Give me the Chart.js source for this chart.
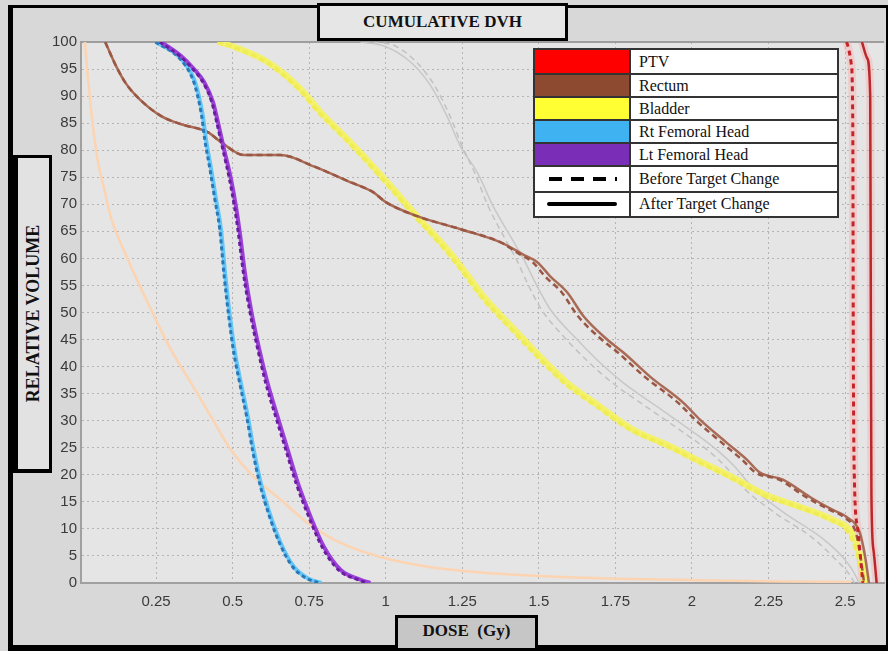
<!DOCTYPE html>
<html>
<head>
<meta charset="utf-8">
<script src="https://cdn.jsdelivr.net/npm/chart.js@4.4.1/dist/chart.umd.min.js"></script>
<style>
html, body { margin: 0; padding: 0; }
body { width: 888px; height: 651px; background: #d8d8d8; position: relative; overflow: hidden; }
#myChart { position: absolute; left: 0; top: 0; }
.frame { position: absolute; left: 8px; top: 5px; width: 880px; height: 646px; box-sizing: border-box;
  border-style: solid; border-color: #000; border-width: 3px 2px 6px 5px; pointer-events: none; }
.box { position: absolute; box-sizing: border-box; border: 3px solid #000; display: flex;
  align-items: center; justify-content: center; font-family: "Liberation Serif", "Times New Roman", serif;
  font-weight: bold; color: #111; white-space: nowrap; }
#title { left: 317px; top: 3px; width: 251px; height: 38px; background: #e6e6e6; font-size: 17px; }
#ylab { left: 13px; top: 155px; width: 39px; height: 318px; background: #e2e2e2; border-width: 3px 3px 4px 5px; }
#ylab span { display: inline-block; transform: rotate(-90deg); font-size: 18px; }
#xlab { left: 395px; top: 615px; width: 143px; height: 36px; background: #c6c6c6; font-size: 17px; padding-bottom: 4px; }
#legend { position: absolute; left: 533px; top: 48px; width: 306px; box-sizing: border-box;
  border: 2px solid #333; background: #fff; font-family: "Liberation Serif", "Times New Roman", serif;
  font-size: 16px; color: #111; }
#legend .row { display: flex; border-top: 2px solid #333; box-sizing: border-box; }
#legend .row:first-child { border-top: none; }
#legend .sw { width: 96px; border-right: 2px solid #333; position: relative; box-sizing: border-box; }
#legend .tx { flex: 1; padding-left: 8px; display: flex; align-items: center; line-height: 1; }
</style>
</head>
<body>
<canvas id="myChart" width="888" height="651"></canvas>
<div class="frame"></div>
<div class="box" id="title">CUMULATIVE DVH</div>
<div class="box" id="ylab"><span>RELATIVE VOLUME</span></div>
<div class="box" id="xlab">DOSE&nbsp;&nbsp;(Gy)</div>
<div id="legend"></div>
<script>
// axis ticks
const xTickVals = [0.25, 0.5, 0.75, 1, 1.25, 1.5, 1.75, 2, 2.25, 2.5];
const yTickVals = [0, 5, 10, 15, 20, 25, 30, 35, 40, 45, 50, 55, 60, 65, 70, 75, 80, 85, 90, 95, 100];

// PTV
const ptvAfterDose = [2.555, 2.572, 2.582, 2.584, 2.586, 2.593, 2.603];
const ptvAfterVol = [100, 97, 90, 50, 16, 6, 0];
const ptvBeforeDose = [2.505, 2.52, 2.525, 2.527, 2.53, 2.541, 2.558];
const ptvBeforeVol = [100, 96, 85, 40, 20, 10, 0];

// Rectum
const rectumAfterDose = [0.084, 0.12, 0.152, 0.195, 0.267, 0.332, 0.42, 0.462, 0.537, 0.657, 0.765, 0.876, 0.96, 1.0, 1.103, 1.244, 1.374, 1.449, 1.495, 1.537, 1.593, 1.646, 1.723, 1.776, 1.864, 1.972, 2.026, 2.114, 2.179, 2.222, 2.297, 2.385, 2.46, 2.505, 2.548, 2.565, 2.578];
const rectumBeforeDose = [0.084, 0.12, 0.152, 0.195, 0.267, 0.332, 0.42, 0.462, 0.537, 0.657, 0.765, 0.876, 0.96, 1.0, 1.103, 1.244, 1.374, 1.44, 1.48, 1.52, 1.575, 1.628, 1.705, 1.758, 1.846, 1.955, 2.01, 2.098, 2.163, 2.208, 2.285, 2.372, 2.45, 2.495, 2.535, 2.55, 2.562];
const rectumVol = [100, 95.5, 92.3, 89.5, 86.3, 84.8, 83.3, 81.5, 79.1, 79.1, 77, 74.3, 72.2, 70.4, 67.8, 65.4, 63, 60.7, 59.3, 56.7, 53.7, 49.3, 45, 42.6, 38.1, 33.3, 30.2, 25.9, 22.8, 20.4, 19.1, 15.9, 13.5, 12.2, 9.3, 5, 0];

// Bladder
const bladderAfterDose = [0.455, 0.51, 0.615, 0.723, 0.788, 0.876, 0.983, 1.103, 1.211, 1.266, 1.319, 1.43, 1.504, 1.593, 1.7, 1.809, 1.92, 2.026, 2.134, 2.245, 2.352, 2.46, 2.515, 2.537, 2.558, 2.566];
const bladderBeforeDose = [0.45, 0.505, 0.608, 0.716, 0.781, 0.869, 0.976, 1.095, 1.203, 1.258, 1.311, 1.42, 1.494, 1.583, 1.69, 1.799, 1.91, 2.016, 2.124, 2.235, 2.342, 2.45, 2.505, 2.528, 2.55, 2.558];
const bladderVol = [100, 99, 96.3, 91.3, 87, 82, 75.5, 67.8, 61, 57, 53, 46.3, 41.9, 37, 32.6, 28.3, 25.5, 22.5, 19.5, 16.2, 14.1, 11.7, 9.8, 7.4, 3, 0];

// Rt Femoral Head
const rtFemAfterDose = [0.25, 0.332, 0.374, 0.39, 0.403, 0.413, 0.43, 0.446, 0.462, 0.476, 0.492, 0.508, 0.527, 0.55, 0.569, 0.592, 0.625, 0.657, 0.7, 0.745, 0.79];
const rtFemBeforeDose = [0.248, 0.328, 0.37, 0.386, 0.399, 0.409, 0.426, 0.442, 0.458, 0.472, 0.488, 0.504, 0.523, 0.546, 0.565, 0.588, 0.621, 0.653, 0.696, 0.74, 0.785];
const rtFemVol = [100, 96.9, 93.1, 90, 86.3, 82, 76.5, 70.9, 65.4, 57, 49, 42.5, 37, 30.7, 24.6, 18.5, 12.2, 7.4, 3, 0.9, 0];

// Lt Femoral Head
const ltFemAfterDose = [0.267, 0.332, 0.374, 0.407, 0.436, 0.452, 0.472, 0.495, 0.511, 0.523, 0.541, 0.562, 0.588, 0.614, 0.647, 0.68, 0.713, 0.755, 0.798, 0.853, 0.918, 0.95];
const ltFemBeforeDose = [0.262, 0.328, 0.37, 0.403, 0.432, 0.448, 0.468, 0.49, 0.506, 0.518, 0.536, 0.557, 0.583, 0.608, 0.641, 0.674, 0.707, 0.749, 0.792, 0.846, 0.91, 0.94];
const ltFemVol = [100, 97.4, 95, 92.6, 88.9, 85.2, 80.2, 74.6, 69.6, 65, 57, 50, 43, 37, 30.7, 24.6, 18.5, 12.2, 6.7, 2.4, 0.6, 0];

// unlabelled grey structure
const greyAfterDose = [0.918, 0.993, 1.081, 1.147, 1.2, 1.244, 1.299, 1.351, 1.407, 1.449, 1.495, 1.537, 1.625, 1.7, 1.776, 1.886, 1.994, 2.081, 2.14, 2.2, 2.3, 2.42, 2.5, 2.537, 2.545];
const greyBeforeDose = [0.96, 1.03, 1.1, 1.16, 1.21, 1.25, 1.29, 1.335, 1.385, 1.425, 1.468, 1.508, 1.59, 1.665, 1.74, 1.85, 1.96, 2.05, 2.11, 2.17, 2.27, 2.39, 2.47, 2.52, 2.53];
const greyVol = [100, 99.3, 96.3, 91.9, 86.3, 80.7, 75.9, 69.6, 64.1, 60, 54.8, 50.6, 45, 40.7, 37, 32.6, 28.3, 24.6, 21.5, 17.5, 13, 8.5, 4.3, 1.1, 0];

// unlabelled peach structure
const peachDose = [0.018, 0.025, 0.035, 0.045, 0.06, 0.08, 0.103, 0.126, 0.18, 0.234, 0.299, 0.364, 0.43, 0.495, 0.569, 0.657, 0.745, 0.853, 0.983, 1.137, 1.3, 1.504, 1.75, 2.026, 2.3, 2.52];
const peachVol = [100, 95, 89, 84, 78, 73, 67.5, 64, 57, 50.5, 43.1, 37, 30.7, 24.6, 19.6, 15.4, 11.1, 7.4, 4.8, 3, 2, 1.3, 0.8, 0.5, 0.3, 0.2];

// legend
const legendLabels = ['PTV', 'Rectum', 'Bladder', 'Rt Femoral Head', 'Lt Femoral Head', 'Before Target Change', 'After Target Change'];
const legendColors = ['#ff0000', '#8e4a30', '#ffff33', '#3fb2f2', '#7a2db6', 'dash', 'solid'];

function pts(dose, vol) {
    return dose.map((d, i) => ({ x: d, y: vol[i] }));
}

function line(label, data, color, width, dash) {
    return {
        label: label,
        data: data,
        borderColor: color,
        borderWidth: width,
        borderDash: dash || [],
        pointRadius: 0,
        fill: false,
        cubicInterpolationMode: 'monotone'
    };
}

// first in list = drawn on top
const datasets = [
    line('PTV before', pts(ptvBeforeDose, ptvBeforeVol), '#c3252b', 3, [5, 4]),
    line('PTV after', pts(ptvAfterDose, ptvAfterVol), '#b8282d', 2.5),
    line('Lt Femoral Head before', pts(ltFemBeforeDose, ltFemVol), '#6a1e9e', 3, [4, 3]),
    line('Lt Femoral Head after', pts(ltFemAfterDose, ltFemVol), '#9a40d8', 4),
    line('Rt Femoral Head before', pts(rtFemBeforeDose, rtFemVol), '#2a78b8', 3, [4, 3]),
    line('Rt Femoral Head after', pts(rtFemAfterDose, rtFemVol), '#62c6f6', 4),
    line('Rectum before', pts(rectumBeforeDose, rectumVol), '#9a5743', 2.5, [6, 4]),
    line('Rectum after', pts(rectumAfterDose, rectumVol), '#a96a56', 2.5),
    line('Bladder before', pts(bladderBeforeDose, bladderVol), '#efec55', 4, [6, 3]),
    line('Bladder after', pts(bladderAfterDose, bladderVol), '#f4f26a', 6),
    line('Grey before', pts(greyBeforeDose, greyVol), '#c2c2c2', 1.5, [6, 4]),
    line('Grey after', pts(greyAfterDose, greyVol), '#c8c8c8', 1.5),
    line('Peach', pts(peachDose, peachVol), '#fcd4b2', 2.5),
    line('PTV before glow', pts(ptvBeforeDose, ptvBeforeVol), 'rgba(255,160,160,0.35)', 8),
    line('PTV after glow', pts(ptvAfterDose, ptvAfterVol), 'rgba(255,160,160,0.35)', 8)
];

// html legend
const legendEl = document.getElementById('legend');
legendLabels.forEach((name, i) => {
    const row = document.createElement('div');
    row.className = 'row';
    row.style.height = (i < 5 ? 23 : 25.5) + 'px';
    const sw = document.createElement('div');
    sw.className = 'sw';
    const c = legendColors[i];
    if (c === 'dash') {
        sw.style.background = '#fff';
        sw.innerHTML = '<div style="position:absolute;left:14px;right:12px;top:50%;margin-top:-2px;height:4px;' +
            'background:repeating-linear-gradient(90deg,#000 0 13px,transparent 13px 22px)"></div>';
    } else if (c === 'solid') {
        sw.style.background = '#fff';
        sw.innerHTML = '<div style="position:absolute;left:12px;right:12px;top:50%;margin-top:-2px;height:4px;background:#000;border-radius:2px"></div>';
    } else {
        sw.style.background = c;
    }
    const tx = document.createElement('div');
    tx.className = 'tx';
    tx.textContent = name;
    row.appendChild(sw);
    row.appendChild(tx);
    legendEl.appendChild(row);
});

const plotBg = {
    id: 'plotBg',
    beforeDraw(chart) {
        const { ctx, chartArea: a } = chart;
        ctx.save();
        ctx.fillStyle = '#e5e5e5';
        ctx.fillRect(a.left, a.top, a.right - a.left, a.bottom - a.top);
        ctx.restore();
    },
    beforeDatasetsDraw(chart) {
        const { ctx, chartArea: a } = chart;
        ctx.save();
        ctx.strokeStyle = '#9e9e9e';
        ctx.lineWidth = 2;
        ctx.beginPath();
        ctx.moveTo(a.left, a.top);
        ctx.lineTo(a.right, a.top);
        ctx.stroke();
        ctx.restore();
    }
};

const ctx = document.getElementById('myChart').getContext('2d');
const myChart = new Chart(ctx, {
    type: 'line',
    data: { datasets: datasets },
    options: {
        responsive: false,
        animation: false,
        layout: { padding: { left: 0, top: 42, right: 4, bottom: 0 } },
        plugins: {
            legend: { display: false },
            title: { display: false },
            tooltip: { enabled: false }
        },
        scales: {
            x: {
                type: 'linear',
                min: 0.005,
                max: 2.627,
                afterFit: s => { s.height = 68; },
                afterBuildTicks: s => { s.ticks = xTickVals.map(v => ({ value: v })); },
                grid: { color: '#b4b4b4', drawTicks: false, lineWidth: 1 },
                border: { display: true, color: '#a0a0a0', width: 2, dash: [2, 3] },
                ticks: {
                    padding: 10,
                    color: '#3a3a3a',
                    font: { family: 'Liberation Sans, Arial, sans-serif', size: 15 },
                    callback: v => String(v)
                }
            },
            y: {
                min: 0,
                max: 100,
                afterFit: s => { s.width = 81; },
                afterBuildTicks: s => { s.ticks = yTickVals.map(v => ({ value: v })); },
                grid: { color: '#b4b4b4', drawTicks: false, lineWidth: 1 },
                border: { display: true, color: '#a0a0a0', width: 2, dash: [2, 3] },
                ticks: {
                    padding: 4,
                    color: '#3a3a3a',
                    font: { family: 'Liberation Sans, Arial, sans-serif', size: 15 }
                }
            }
        }
    },
    plugins: [plotBg]
});
</script>
</body>
</html>
